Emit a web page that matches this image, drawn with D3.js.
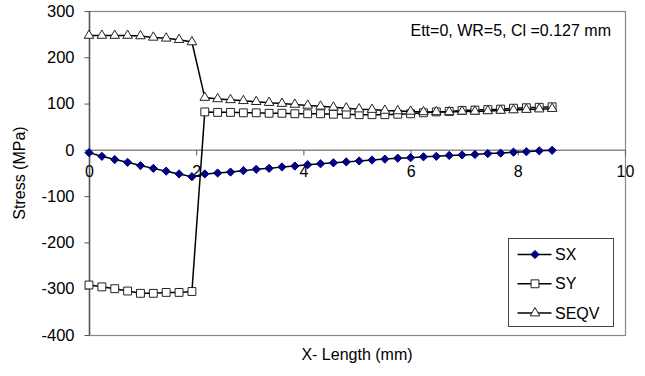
<!DOCTYPE html>
<html>
<head>
<meta charset="utf-8">
<script src="https://cdn.jsdelivr.net/npm/d3@7"></script>
<style>
  body { margin: 0; background: #fff; }
  svg text { font-family: Arial, "Liberation Sans", sans-serif; fill: #000; }
</style>
</head>
<body>
<svg id="chart" width="645" height="376"></svg>
<script>
// x positions along the length (mm)
var xLen = [0, 0.24, 0.48, 0.72, 0.96, 1.2, 1.44, 1.68, 1.92,
  2.16, 2.4, 2.64, 2.88, 3.12, 3.36, 3.6, 3.84, 4.08, 4.32, 4.56, 4.8,
  5.04, 5.28, 5.52, 5.76, 6.0, 6.24, 6.48, 6.72, 6.96, 7.2, 7.44, 7.68,
  7.92, 8.16, 8.4, 8.64];

var sx = [-6, -14, -21, -27, -34, -40, -46, -52, -58,
  -52, -50, -48, -45, -42, -40, -37, -35, -32, -30, -28, -26, -24, -22,
  -20, -18, -17, -15, -14, -12, -11, -10, -8, -7, -5, -4, -2, -1];

var sy = [-292, -296, -300, -305, -310, -310, -308, -308, -306,
  82, 81, 81, 80, 80, 79, 79, 78, 78, 78, 77, 77, 76, 76, 76, 77, 78,
  80, 82, 83, 85, 86, 87, 88, 90, 91, 92, 93];

var seqv = [247, 247, 247, 247, 246, 243, 241, 238, 233,
  113, 110, 108, 106, 104, 102, 100, 98, 96, 94, 92, 90, 88, 87, 85, 84,
  83, 82, 82, 82, 83, 83, 84, 85, 86, 87, 88, 89];

var seriesNames = ["SX", "SY", "SEQV"];
var xTicks = [0, 2, 4, 6, 8, 10];
var yTicks = [-400, -300, -200, -100, 0, 100, 200, 300];
var note = "Ett=0, WR=5, Cl =0.127 mm";

var lPad = 89, rEdge = 625, tPad = 11, bEdge = 335;
var fontSize = 16;

var svg = d3.select("#chart");

var xScale = d3.scaleLinear().domain([0, 10]).range([lPad, rEdge]);
var yScale = d3.scaleLinear().domain([-400, 300]).range([bEdge, tPad]);

// plain hyphen for negatives, like the original
var plainFmt = function(d) { return String(d); };

// diamond drawn as a rotated square (Excel style)
var diamond = {
  draw: function(context, size) {
    var r = Math.sqrt(size / 2);
    context.moveTo(0, -r);
    context.lineTo(r, 0);
    context.lineTo(0, r);
    context.lineTo(-r, 0);
    context.closePath();
  }
};

var styles = [
  { type: diamond, size: 34, fill: "#000080", stroke: "#000080" },
  { type: d3.symbolSquare, size: 62, fill: "#fff", stroke: "#222" },
  { type: d3.symbolTriangle, size: 40, fill: "#fff", stroke: "#222" }
];

// plot frame
svg.append("rect")
  .attr("x", lPad + 0.5)
  .attr("y", tPad + 0.5)
  .attr("width", rEdge - lPad)
  .attr("height", bEdge - tPad)
  .attr("fill", "#fff")
  .attr("stroke", "#888")
  .attr("stroke-width", 1.2);

// y axis
var yAxis = d3.axisLeft(yScale)
  .tickValues(yTicks)
  .tickSize(5)
  .tickPadding(10)
  .tickFormat(plainFmt);

var gy = svg.append("g")
  .attr("transform", "translate(" + (lPad + 0.5) + ",0)")
  .call(yAxis);
gy.select(".domain").attr("stroke", "#555").attr("stroke-width", 1.5)
  .attr("d", "M0," + tPad + "V" + bEdge);
gy.selectAll(".tick line").attr("stroke", "#555");
gy.selectAll(".tick text")
  .attr("font-size", fontSize + 0.5)
  .attr("font-family", "Arial, 'Liberation Sans', sans-serif");

// x axis crosses at zero
var xAxis = d3.axisBottom(xScale)
  .tickValues(xTicks)
  .tickSize(5)
  .tickPadding(10)
  .tickFormat(plainFmt);

var gx = svg.append("g")
  .attr("transform", "translate(0," + (yScale(0) + 0.5) + ")")
  .call(xAxis);
gx.select(".domain").attr("stroke", "#888").attr("stroke-width", 1.5)
  .attr("d", "M" + lPad + ",0H" + rEdge);
gx.selectAll(".tick line").attr("stroke", "#555");
gx.selectAll(".tick text")
  .attr("font-size", fontSize)
  .attr("font-family", "Arial, 'Liberation Sans', sans-serif");

// series
var allSeries = [sx, sy, seqv].map(function(vals, k) {
  return {
    name: seriesNames[k],
    style: styles[k],
    points: vals.map(function(v, i) { return { x: xLen[i], y: v }; })
  };
});

var line = d3.line()
  .x(function(d) { return xScale(d.x); })
  .y(function(d) { return yScale(d.y); });

allSeries.forEach(function(s) {
  var g = svg.append("g");
  g.append("path")
    .attr("d", line(s.points))
    .attr("fill", "none")
    .attr("stroke", "#000")
    .attr("stroke-width", 1.5);
  g.selectAll("path.mark")
    .data(s.points)
    .enter().append("path")
    .attr("class", "mark")
    .attr("transform", function(d) {
      return "translate(" + xScale(d.x) + "," + yScale(d.y) + ")";
    })
    .attr("d", d3.symbol().type(s.style.type).size(s.style.size))
    .attr("fill", s.style.fill)
    .attr("stroke", s.style.stroke)
    .attr("stroke-width", 1);
});

// annotation
svg.append("text")
  .attr("x", 611)
  .attr("y", 36)
  .attr("text-anchor", "end")
  .attr("font-size", fontSize)
  .text(note);

// axis titles
svg.append("text")
  .attr("x", (lPad + rEdge) / 2)
  .attr("y", 360)
  .attr("text-anchor", "middle")
  .attr("font-size", fontSize)
  .text("X- Length (mm)");

svg.append("text")
  .attr("transform", "translate(25," + ((tPad + bEdge) / 2) + ") rotate(-90)")
  .attr("text-anchor", "middle")
  .attr("font-size", fontSize)
  .text("Stress (MPa)");

// legend
var legend = svg.append("g").attr("transform", "translate(508.5,238.5)");
legend.append("rect")
  .attr("width", 105)
  .attr("height", 88)
  .attr("fill", "#fff")
  .attr("stroke", "#444")
  .attr("stroke-width", 1);

var entry = legend.selectAll("g.entry")
  .data(allSeries)
  .enter().append("g")
  .attr("class", "entry")
  .attr("transform", function(d, i) { return "translate(0," + (16 + i * 29.3) + ")"; });

entry.append("line")
  .attr("x1", 9).attr("x2", 43)
  .attr("stroke", "#000")
  .attr("stroke-width", 1.5);
entry.append("path")
  .attr("transform", "translate(26.5,0)")
  .attr("d", function(d) { return d3.symbol().type(d.style.type).size(d.style.size)(); })
  .attr("fill", function(d) { return d.style.fill; })
  .attr("stroke", function(d) { return d.style.stroke; });
entry.append("text")
  .attr("x", 46.5)
  .attr("dy", "0.35em")
  .attr("font-size", fontSize)
  .text(function(d) { return d.name; });
</script>
</body>
</html>
